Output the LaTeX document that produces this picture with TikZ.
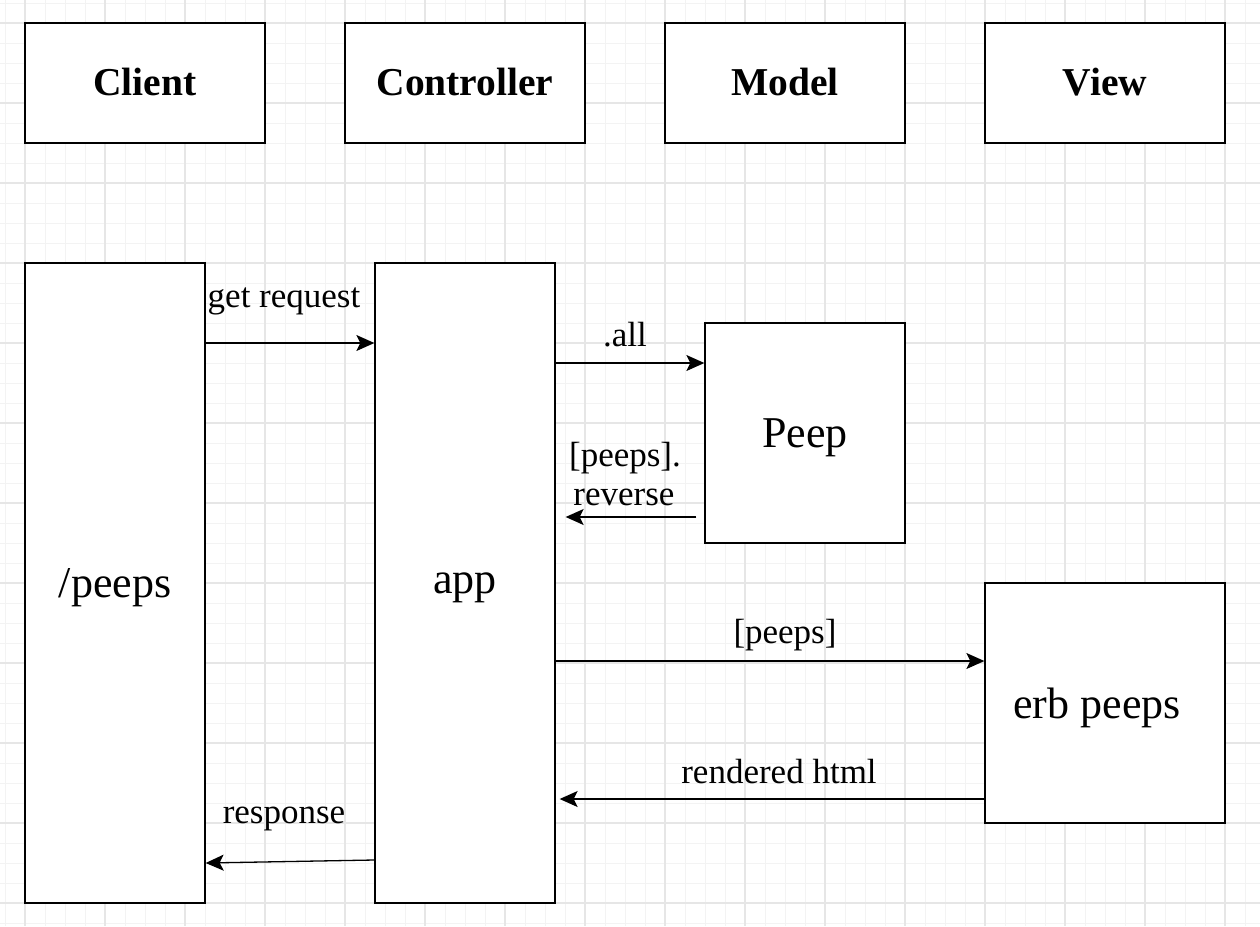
\documentclass[tikz,border=0pt]{standalone}
\usepackage{fontspec}
\setmainfont{Liberation Serif}
\usetikzlibrary{arrows.meta}
\definecolor{minorgrid}{HTML}{F3F3F3}
\definecolor{majorgrid}{HTML}{E6E6E6}

\begin{document}
\begin{tikzpicture}[x=1pt, y=-1pt,
    box/.style={draw, fill=white, line width=1.3pt, inner sep=0pt},
    head/.style={box, minimum width=240, minimum height=120, text depth=3pt, font=\fontsize{39.5}{46}\selectfont\bfseries},
    big/.style={text depth=0pt, font=\fontsize{44}{50}\selectfont},
    lbl/.style={anchor=base, inner sep=0pt, align=center, font=\fontsize{35}{40}\selectfont},
    msg/.style={line width=1.3pt, -{Stealth[length=18pt, width=16pt, inset=4pt]}}]
    \useasboundingbox (0,0) rectangle (1260,926);
    \fill[white] (0,0) rectangle (1260,926);

    % grid
    \foreach \gx in {5,25,...,1260} \draw[minorgrid, line width=1pt] (\gx,0) -- (\gx,926);
    \foreach \gy in {3,23,...,926} \draw[minorgrid, line width=1pt] (0,\gy) -- (1260,\gy);
    \foreach \gx in {25,105,...,1260} \draw[majorgrid, line width=1.5pt] (\gx,0) -- (\gx,926);
    \foreach \gy in {23,103,...,926} \draw[majorgrid, line width=1.5pt] (0,\gy) -- (1260,\gy);

    \node[head] (client) at (145, 83) {Client};
    \node[head] (controller) at (465, 83) {Controller};
    \node[head] (model) at (785, 83) {Model};
    \node[head] (view) at (1105, 83) {View};

    \node[box, big, minimum width=180, minimum height=640] (peeps) at (115, 583) {/peeps};
    \node[box, big, minimum width=180, minimum height=640] (app) at (465, 583) {app};
    \node[box, big, minimum width=200, minimum height=220] (peep) at (805, 433) {Peep};
    \node[box, big, minimum width=240, minimum height=240] (erb) at (1105, 703) {\hspace{-16pt}erb peeps};

    \draw[msg] (peeps.east |- 0,343) -- (app.west |- 0,343);
    \draw[msg] (app.east |- 0,363) -- (peep.west |- 0,363);
    \draw[msg] ([xshift=-8]peep.west |- 0,517) -- ([xshift=10]app.east |- 0,517);
    \draw[msg] (app.east |- 0,661) -- (erb.west |- 0,661);
    \draw[msg] (erb.west |- 0,799) -- ([xshift=4]app.east |- 0,799);
    \draw[msg] (app.west |- 0,860) -- (peeps.east |- 0,863);

    \node[lbl] (getreq) at (284, 307) {get request};
    \node[lbl] (all) at (625, 346) {.all};
    \node[lbl] (reverse1) at (625, 466) {[peeps].};
    \node[lbl] (reverse2) at (624, 505) {reverse};
    \node[lbl] (passpeeps) at (785, 643) {[peeps]};
    \node[lbl] (rendered) at (779, 783) {rendered html};
    \node[lbl] (response) at (284, 823) {response};
\end{tikzpicture}
\end{document}
